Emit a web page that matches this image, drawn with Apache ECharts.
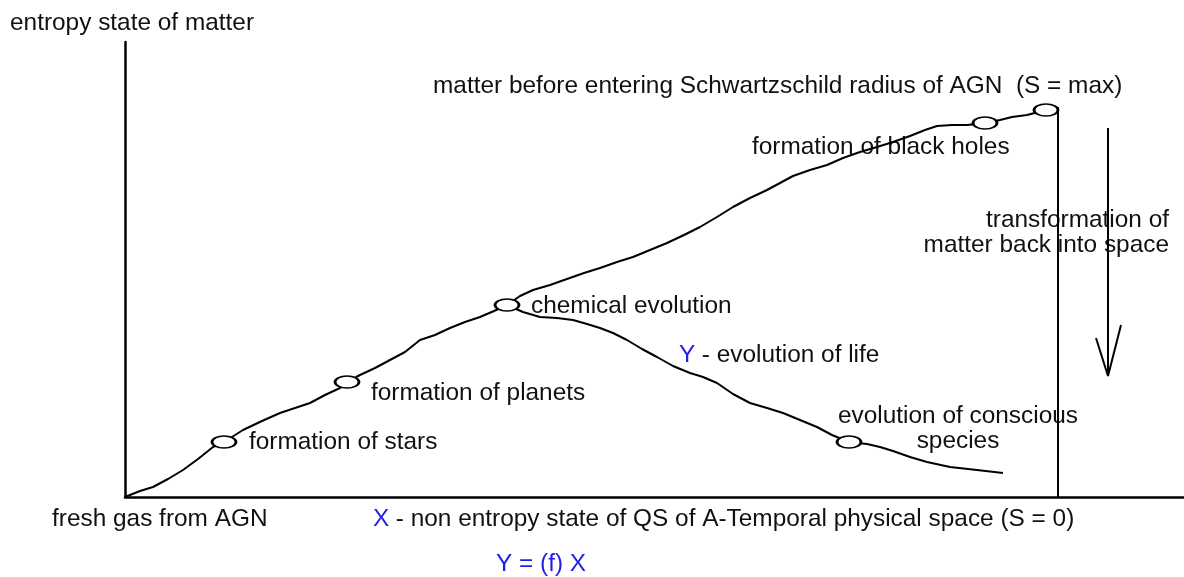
<!DOCTYPE html>
<html>
<head>
<meta charset="utf-8">
<title>entropy state of matter</title>
<script src="https://cdn.jsdelivr.net/npm/echarts@6/dist/echarts.min.js"></script>
<style>
  html, body { margin: 0; padding: 0; background: #fff; }
  #chart { width: 1184px; height: 577px; }
</style>
</head>
<body>
<div id="chart"></div>
<script>
// main curve: matter gains entropy from fresh gas up to S = max
var mainX = [0, 15, 28, 43, 58, 73, 88, 99, 118, 137, 155, 170, 185, 200, 215, 222, 235, 250, 265, 280, 295, 310, 325, 340, 355, 369, 382,
  395, 408, 425, 442, 459, 475, 492, 508, 525, 542, 559, 575, 592, 608, 625, 642, 655, 668, 685, 702, 718, 735, 752, 768, 785, 800, 812, 827, 842, 860, 875, 887, 902, 921];
var mainY = [0, 6, 10, 18, 27, 38, 50, 55, 67, 76, 84, 89, 94, 102, 109, 115, 122, 129, 137, 145, 157, 162, 169, 175, 180, 186, 192,
  201, 207, 212, 218, 224, 229, 235, 240, 247, 254, 262, 270, 280, 290, 299, 307, 314, 321, 327, 332, 339, 345, 350, 355, 361, 367, 371, 372, 372, 374, 377, 380, 382, 387];

// branch Y - evolution of life
var lifeX = [382, 398, 415, 432, 448, 462, 475, 488, 502, 517, 532, 548, 565, 578, 592, 608, 625, 642, 658, 675, 692, 707, 724, 742, 755, 768, 785, 802, 825, 852, 878];
var lifeY = [192, 185, 180, 179, 177, 173, 169, 164, 157, 148, 140, 131, 124, 120, 114, 103, 94, 89, 84, 77, 70, 62, 55, 53, 50, 46, 40, 35, 30, 27, 24];

// stage markers (ellipses)
var stageX = [99, 222, 382, 724, 860, 921];
var stageY = [55, 115, 192, 55, 374, 387];

// Schwartzschild wall and the return arrow
var wallX = [933, 933];
var wallY = [0, 390];
var arrowX = [983, 983];
var arrowY = [369, 121];
var headX = [971, 983, 996];
var headY = [159, 121, 172];

function zip(xs, ys) {
  return xs.map(function (x, i) { return [x, ys[i]]; });
}

var FONT = '24.4px "Liberation Sans", Arial, Helvetica, sans-serif';
var BLUE = '#1f1fe6';

function txt(text, x, y, color, align) {
  return {
    type: 'text',
    x: x,
    y: y,
    style: {
      text: text,
      font: FONT,
      fill: color || '#111',
      align: align || 'left',
      verticalAlign: 'middle',
      lineHeight: 25
    }
  };
}

var lineStyle = { color: '#000', width: 2 };

var myChart = echarts.init(document.getElementById('chart'));
var option = {
  animation: false,
  backgroundColor: '#fff',
  grid: { left: 125, right: 0, top: 42, bottom: 80 },
  xAxis: {
    type: 'value', min: 0, max: 1059,
    axisLine: { lineStyle: { color: '#000', width: 2.5 } },
    axisTick: { show: false }, axisLabel: { show: false }, splitLine: { show: false }
  },
  yAxis: {
    type: 'value', min: 0, max: 455,
    axisLine: { show: true, lineStyle: { color: '#000', width: 2.5 } },
    axisTick: { show: false }, axisLabel: { show: false }, splitLine: { show: false }
  },
  series: [
    { type: 'line', data: zip(mainX, mainY), showSymbol: false, lineStyle: lineStyle, z: 2 },
    { type: 'line', data: zip(lifeX, lifeY), showSymbol: false, lineStyle: lineStyle, z: 2 },
    { type: 'line', data: zip(wallX, wallY), showSymbol: false, lineStyle: lineStyle, z: 2 },
    { type: 'line', data: zip(arrowX, arrowY), showSymbol: false, lineStyle: lineStyle, z: 2 },
    { type: 'line', data: zip(headX, headY), showSymbol: false, lineStyle: lineStyle, z: 2 },
    {
      type: 'scatter', data: zip(stageX, stageY),
      symbol: 'circle', symbolSize: [24, 12],
      itemStyle: { color: '#fff', borderColor: '#000', borderWidth: 2, opacity: 1 },
      z: 3
    }
  ],
  graphic: [
    txt('entropy state of matter', 10, 23),
    txt('matter before entering Schwartzschild radius of AGN  (S = max)', 433, 86),
    txt('formation of black holes', 752, 147),
    txt('transformation of\nmatter back into space', 1169, 233, null, 'right'),
    txt('chemical evolution', 531, 306),
    txt('Y', 679, 355, BLUE),
    txt(' - evolution of life', 695, 355),
    txt('formation of planets', 371, 393),
    txt('evolution of conscious\nspecies', 958, 429, null, 'center'),
    txt('formation of stars', 249, 442),
    txt('fresh gas from AGN', 52, 519),
    txt('X', 373, 519, BLUE),
    txt(' - non entropy state of QS of A-Temporal physical space (S = 0)', 389, 519),
    txt('Y = (f) X', 496, 564, BLUE)
  ]
};
myChart.setOption(option);
</script>
</body>
</html>
